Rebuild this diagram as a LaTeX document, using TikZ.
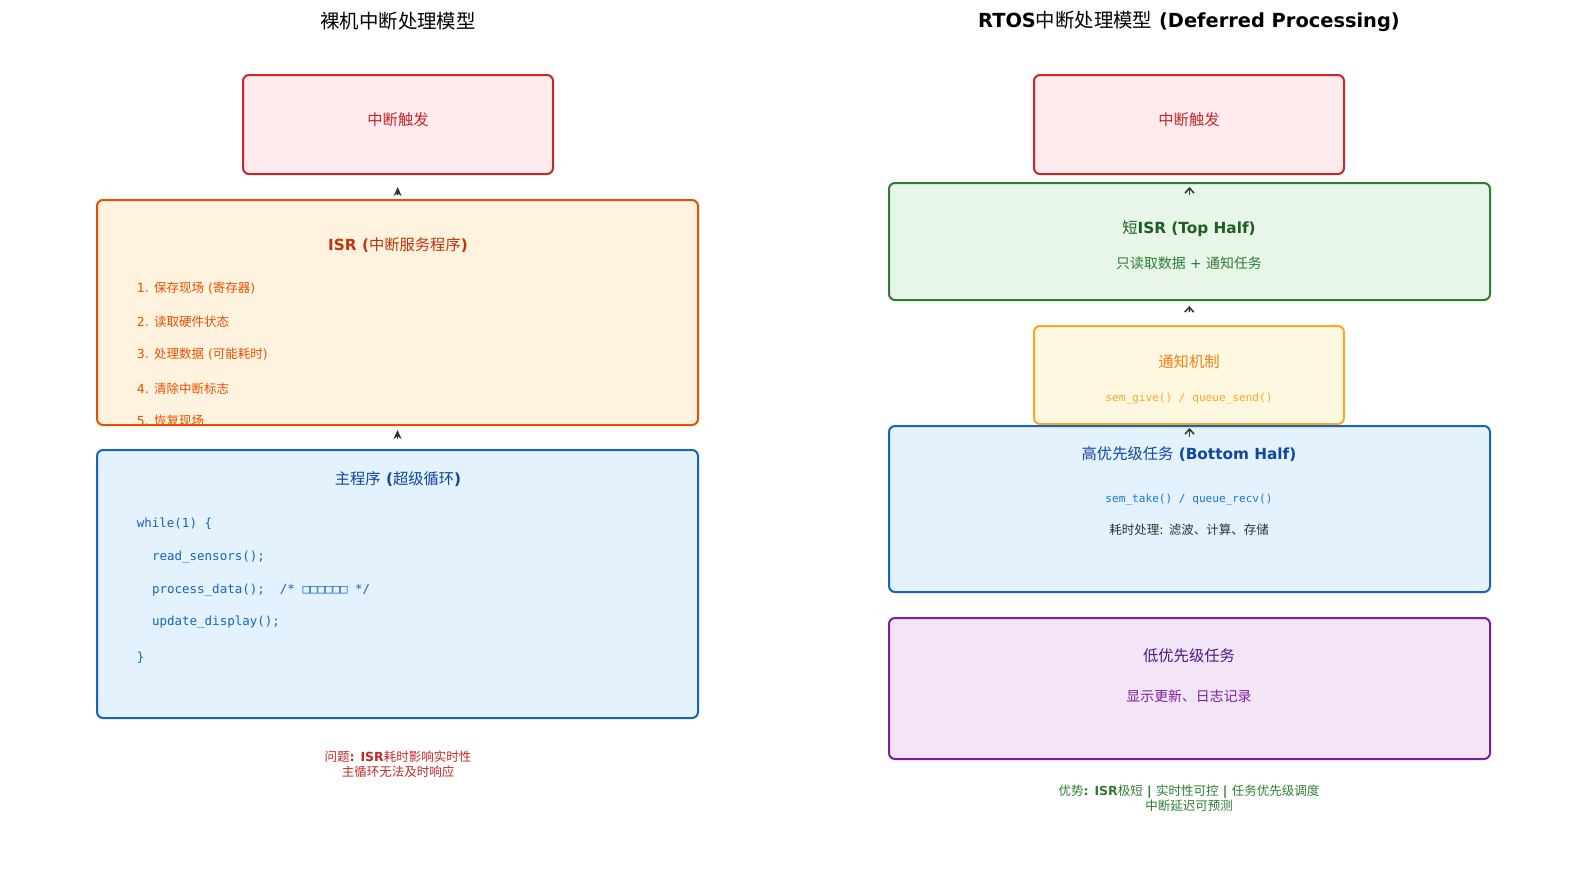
\documentclass[tikz,border=0pt]{standalone}
\usepackage{fontspec}
\setmainfont{DejaVu Sans}
\setmonofont{DejaVu Sans Mono}
\newfontfamily\cjk{Noto Sans CJK SC}
\newcommand{\zh}[1]{{\cjk\mdseries #1}}
\usetikzlibrary{arrows.meta}
\definecolor{cRed}{HTML}{C62828}
\definecolor{fRed}{HTML}{FFEBEE}
\definecolor{cOrg}{HTML}{E65100}
\definecolor{tOrg}{HTML}{BF360C}
\definecolor{fOrg}{HTML}{FFF3E0}
\definecolor{cBlue}{HTML}{1565C0}
\definecolor{tBlue}{HTML}{0D47A1}
\definecolor{fBlue}{HTML}{E3F2FD}
\definecolor{kBlue}{HTML}{1976D2}
\definecolor{cGrn}{HTML}{2E7D32}
\definecolor{tGrn}{HTML}{1B5E20}
\definecolor{fGrn}{HTML}{E8F5E9}
\definecolor{cYel}{HTML}{F9A825}
\definecolor{tYel}{HTML}{F57F17}
\definecolor{fYel}{HTML}{FFF8E1}
\definecolor{cPur}{HTML}{7B1FA2}
\definecolor{tPur}{HTML}{4A148C}
\definecolor{fPur}{HTML}{F3E5F5}
\definecolor{cDark}{HTML}{333333}
\tikzset{
  box/.style={draw=#1, line width=2pt, rounded corners=6pt, inner sep=0pt},
  fsTitle/.style={font=\fontsize{19.4}{23}\selectfont\bfseries},
  fsHead/.style={font=\fontsize{15.3}{18}\selectfont\bfseries},
  fsSub/.style={font=\fontsize{13.9}{16}\selectfont},
  fsItem/.style={font=\fontsize{12.5}{15}\selectfont},
  fsCode/.style={font=\fontsize{12.5}{15}\selectfont\ttfamily},
  fsSmallCode/.style={font=\fontsize{11.1}{13}\selectfont\ttfamily},
  fsNote/.style={font=\fontsize{12.5}{14}\selectfont\bfseries, align=center},
  larr/.style={draw=cDark, line width=1.5pt, -{Stealth[length=9pt,width=8pt]}},
  rarr/.style={draw=cDark, line width=1.5pt, -{Straight Barb[length=5pt,width=9pt]}},
}
\begin{document}
\begin{tikzpicture}[x=1pt,y=-1pt]
\useasboundingbox[fill=white] (0,0) rectangle (1587,887);
% ---------- left ----------
\node[fsTitle] (ltitle) at (398,21.5) {\zh{裸机中断处理模型}};
\node[box=cRed, fill=fRed, minimum width=310pt, minimum height=99pt] (ltrig) at (398,124.5) {};
\node[box=cOrg, fill=fOrg, minimum width=601pt, minimum height=225pt] (lisr) at (397.5,312.5) {};
\node[box=cBlue, fill=fBlue, minimum width=601pt, minimum height=268pt] (lmain) at (397.5,584) {};
\node[fsHead, text=cRed] (ltrigt) at (398,120) {\zh{中断触发}};
\node[fsHead, text=tOrg] (lisrt) at (398,245.5) {ISR (\zh{中断服务程序})};
\node[fsItem, text=cOrg, anchor=west] (li1) at (133.3,288.5) {1. \zh{保存现场} (\zh{寄存器})};
\node[fsItem, text=cOrg, anchor=west] (li2) at (133.3,321.5) {2. \zh{读取硬件状态}};
\node[fsItem, text=cOrg, anchor=west] (li3) at (133.3,354.5) {3. \zh{处理数据} (\zh{可能耗时})};
\node[fsItem, text=cOrg, anchor=west] (li4) at (133.3,388.5) {4. \zh{清除中断标志}};
\node[fsItem, text=cOrg, anchor=west] (li5) at (133.3,420.5) {5. \zh{恢复现场}};
\node[fsHead, text=tBlue] (lmaint) at (398,479.5) {\zh{主程序} (\zh{超级循环})};
\node[fsCode, text=cBlue, anchor=west] (lc1) at (133.3,524) {while(1) \{};
\node[fsCode, text=cBlue, anchor=west] (lc2) at (148.5,557) {read\_sensors();};
\node[fsCode, text=cBlue, anchor=west] (lc3) at (148.5,590) {process\_data();\ \ /* □□□□□□ */};
\node[fsCode, text=cBlue, anchor=west] (lc4) at (148.5,622) {update\_display();};
\node[fsCode, text=cBlue, anchor=west] (lc5) at (133.3,658) {\}};
\node[fsNote, text=cRed] (lnote) at (398,764.5) {\zh{问题}: ISR\zh{耗时影响实时性}\\[1pt]\zh{主循环无法及时响应}};
\draw[larr, shorten <=4pt, shorten >=12pt] (lisr.north) -- (ltrig.south);
\draw[larr, shorten <=10pt, shorten >=4pt] (lmain.north) -- (lisr.south);
% ---------- right ----------
\node[fsTitle] (rtitle) at (1189,21.5) {RTOS\zh{中断处理模型} (Deferred Processing)};
\node[box=cRed, fill=fRed, minimum width=310pt, minimum height=99pt] (rtrig) at (1189,124.5) {};
\node[box=cGrn, fill=fGrn, minimum width=601pt, minimum height=117pt] (rsisr) at (1189.5,241.5) {};
\node[box=cYel, fill=fYel, minimum width=310pt, minimum height=98pt] (rnote) at (1189,375) {};
\node[box=cBlue, fill=fBlue, minimum width=601pt, minimum height=166pt] (rhigh) at (1189.5,509) {};
\node[box=cPur, fill=fPur, minimum width=601pt, minimum height=141pt] (rlow) at (1189.5,688.5) {};
\node[fsHead, text=cRed] (rtrigt) at (1189,120) {\zh{中断触发}};
\node[fsHead, text=tGrn] (rsisrt) at (1189,229) {\zh{短}ISR (Top Half)};
\node[fsSub, text=cGrn] (rsisrs) at (1189,263.5) {\zh{只读取数据} + \zh{通知任务}};
\node[fsHead, text=tYel] (rnotet) at (1189,362) {\zh{通知机制}};
\node[fsSmallCode, text=cYel] (rnotec) at (1189,399) {sem\_give() / queue\_send()};
\node[fsHead, text=tBlue] (rhight) at (1189,454.5) {\zh{高优先级任务} (Bottom Half)};
\node[fsSmallCode, text=kBlue] (rhighc) at (1189,500) {sem\_take() / queue\_recv()};
\node[fsItem, text=cDark] (rhighs) at (1189,530) {\zh{耗时处理}: \zh{滤波、计算、存储}};
\node[fsHead, text=tPur] (rlowt) at (1189,655.5) {\zh{低优先级任务}};
\node[fsSub, text=cPur] (rlows) at (1189,696.5) {\zh{显示更新、日志记录}};
\node[fsNote, text=cGrn] (rnotebot) at (1189,798.5) {\zh{优势}: ISR\zh{极短} | \zh{实时性可控} | \zh{任务优先级调度}\\[1pt]\zh{中断延迟可预测}};
\draw[rarr] ([yshift=-13pt]rsisr.north) -- ([yshift=-5pt]rsisr.north);
\draw[rarr, shorten <=13pt, shorten >=5pt] (rnote.north) -- (rsisr.south);
\draw[rarr] ([yshift=-12pt]rhigh.north) -- ([yshift=-3pt]rhigh.north);
\end{tikzpicture}
\end{document}
